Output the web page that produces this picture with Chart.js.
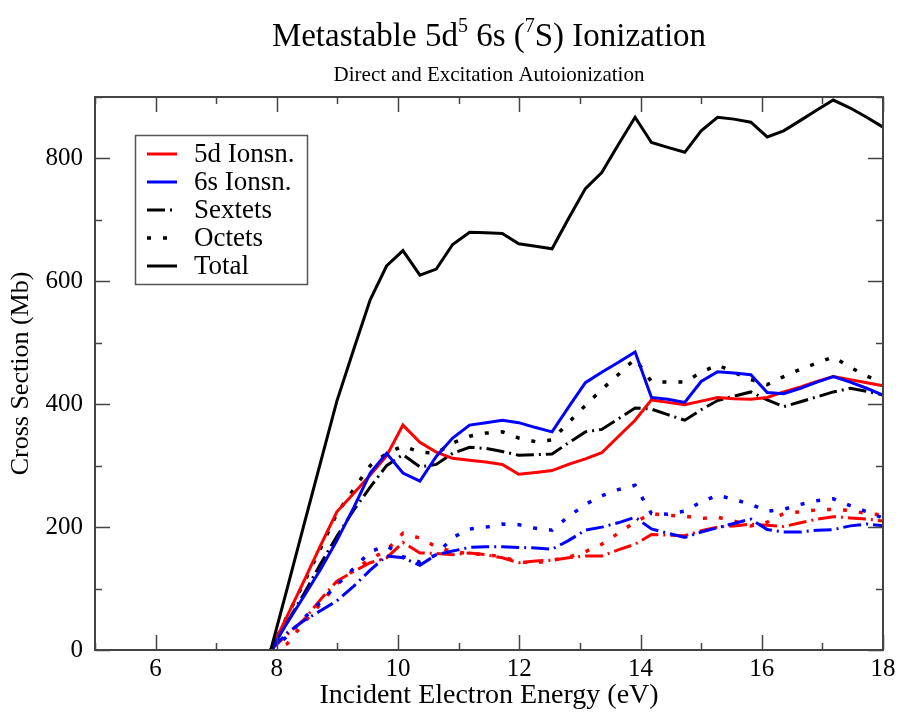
<!DOCTYPE html>
<html>
<head>
<meta charset="utf-8">
<title>Metastable 5d5 6s (7S) Ionization</title>
<script src="https://cdn.jsdelivr.net/npm/chart.js"></script>
<style>
  html, body { margin: 0; padding: 0; background: #fff; }
</style>
</head>
<body>
<canvas id="chart" width="903" height="716"></canvas>
<script>
// incident energies (eV)
const energy = [7.90, 8.17, 8.45, 8.72, 8.99, 9.27, 9.54, 9.81, 10.08, 10.36,
  10.63, 10.90, 11.18, 11.45, 11.72, 11.99, 12.27, 12.54, 12.81, 13.09,
  13.36, 13.63, 13.91, 14.18, 14.45, 14.73, 15.00, 15.27, 15.54, 15.82,
  16.09, 16.36, 16.64, 16.91, 17.18, 17.46, 17.73, 18.00];

// cross sections (Mb)
const total = [0, 100, 205, 305, 405, 490, 570, 625, 650, 610, 620, 660, 680, 679, 678, 661, 657, 653, 702, 751,
  777, 822, 867, 826, 818, 810, 845, 867, 864, 859, 835, 845, 862, 879, 895, 882, 867, 851];
const ion5d = [0, 55, 113, 170, 225, 255, 285, 316, 366, 338, 322, 312, 309, 306, 302, 286, 289, 292, 302, 311,
  321, 347, 374, 407, 403, 399, 405, 411, 409, 408, 411, 420, 428, 437, 445, 440, 435, 430];
const ion6s = [0, 44, 88, 131, 178, 232, 288, 320, 288, 275, 315, 345, 366, 370, 374, 370, 362, 355, 395, 435,
  452, 468, 485, 411, 408, 403, 437, 453, 451, 448, 419, 417, 426, 436, 445, 436, 426, 415];
const sextets = [0, 45, 92, 140, 185, 228, 265, 300, 318, 298, 302, 320, 330, 328, 323, 317, 318, 319, 337, 355,
  359, 376, 394, 392, 383, 374, 391, 406, 413, 420, 407, 396, 404, 412, 420, 426, 421, 415];
const octets = [0, 55, 110, 165, 222, 262, 300, 320, 332, 322, 320, 337, 348, 353, 355, 345, 339, 342, 370, 398,
  424, 448, 474, 437, 436, 436, 452, 464, 452, 440, 432, 445, 457, 467, 477, 460, 446, 435];
const sext5d = [0, 25, 50, 82, 112, 128, 142, 150, 175, 158, 157, 155, 158, 155, 150, 142, 145, 146, 150, 153,
  153, 163, 172, 188, 187, 186, 194, 200, 202, 205, 203, 201, 207, 213, 217, 215, 213, 210];
const oct5d = [0, 10, 45, 75, 108, 130, 148, 162, 190, 182, 168, 160, 157, 155, 152, 143, 142, 146, 151, 160,
  172, 190, 208, 222, 219, 218, 214, 216, 210, 202, 208, 222, 225, 228, 229, 227, 222, 220];
const sext6s = [0, 28, 48, 64, 80, 104, 130, 153, 150, 138, 155, 161, 167, 168, 168, 167, 166, 164, 178, 195,
  200, 207, 216, 197, 190, 183, 192, 199, 206, 213, 196, 192, 192, 195, 196, 202, 205, 202];
const oct6s = [0, 22, 52, 78, 106, 133, 160, 170, 152, 143, 155, 183, 197, 200, 205, 204, 198, 195, 217, 237,
  251, 261, 268, 222, 221, 226, 241, 252, 245, 237, 226, 229, 237, 243, 246, 235, 225, 215];

const legendLabels = ['5d Ionsn.', '6s Ionsn.', 'Sextets', 'Octets', 'Total'];

const SERIF = "'Liberation Serif', 'Times New Roman', serif";
const DASH_SEXT = [18, 5, 2, 5];
const DASH_OCT = [4, 12];

function series(label, values, color, dash, width) {
  return {
    label,
    data: energy.map((e, i) => ({ x: e, y: values[i] })),
    borderColor: color,
    borderWidth: width || 3,
    borderDash: dash || [],
    pointRadius: 0,
    tension: 0,
    fill: false
  };
}

// titel med upphöjda tecken
const supTitle = {
  id: 'supTitle',
  afterDraw(chart) {
    const ctx = chart.ctx, a = chart.chartArea;
    const cx = (a.left + a.right) / 2;
    const parts = [['Metastable 5d', 0], ['5', 1], [' 6s (', 0], ['7', 1], ['S) Ionization', 0]];
    const big = '33px ' + SERIF, small = '20px ' + SERIF;
    ctx.save();
    ctx.fillStyle = '#000';
    ctx.textBaseline = 'alphabetic';
    let w = 0;
    parts.forEach(p => { ctx.font = p[1] ? small : big; w += ctx.measureText(p[0]).width; });
    let x = cx - w / 2;
    parts.forEach(p => {
      ctx.font = p[1] ? small : big;
      ctx.fillText(p[0], x, p[1] ? 32 : 46);
      x += ctx.measureText(p[0]).width;
    });
    ctx.font = '21px ' + SERIF;
    ctx.textAlign = 'center';
    ctx.fillText('Direct and Excitation Autoionization', cx, 81);
    ctx.restore();
  }
};

// ram och inåtriktade ticks på alla fyra sidor
const frameTicks = {
  id: 'frameTicks',
  afterDatasetsDraw(chart) {
    const { ctx, chartArea: a, scales: { x, y } } = chart;
    ctx.save();
    ctx.strokeStyle = '#444';
    ctx.lineWidth = 1.5;
    ctx.beginPath();
    x.ticks.forEach(t => {
      const px = Math.round(x.getPixelForValue(t.value)) + 0.5;
      const len = t.label !== '' ? 15 : 7;
      ctx.moveTo(px, a.bottom); ctx.lineTo(px, a.bottom - len);
      ctx.moveTo(px, a.top); ctx.lineTo(px, a.top + len);
    });
    y.ticks.forEach(t => {
      const py = Math.round(y.getPixelForValue(t.value)) + 0.5;
      const len = t.label !== '' ? 15 : 7;
      ctx.moveTo(a.left, py); ctx.lineTo(a.left + len, py);
      ctx.moveTo(a.right, py); ctx.lineTo(a.right - len, py);
    });
    ctx.stroke();
    ctx.lineWidth = 2;
    ctx.strokeRect(a.left, a.top, a.right - a.left, a.bottom - a.top);
    ctx.restore();
  }
};

// legend i rutan uppe till vänster
const boxLegend = {
  id: 'boxLegend',
  afterDatasetsDraw(chart) {
    const ctx = chart.ctx;
    const box = { x: 135.5, y: 135.5, w: 172, h: 149 };
    ctx.save();
    ctx.fillStyle = '#fff';
    ctx.fillRect(box.x, box.y, box.w, box.h);
    ctx.strokeStyle = '#555';
    ctx.lineWidth = 1.5;
    ctx.strokeRect(box.x, box.y, box.w, box.h);
    ctx.font = '27px ' + SERIF;
    ctx.textBaseline = 'middle';
    legendLabels.forEach((lbl, i) => {
      const ds = chart.data.datasets.find(d => d.label === lbl);
      const yy = 154 + i * 28;
      ctx.strokeStyle = ds.borderColor;
      ctx.lineWidth = ds.borderWidth;
      ctx.setLineDash(ds.borderDash);
      ctx.beginPath();
      ctx.moveTo(147, yy); ctx.lineTo(177, yy);
      ctx.stroke();
      ctx.setLineDash([]);
      ctx.fillStyle = '#000';
      ctx.fillText(lbl, 194, yy + 1);
    });
    ctx.restore();
  }
};

new Chart(document.getElementById('chart'), {
  type: 'line',
  data: {
    datasets: [
      series('Total', total, '#000'),
      series('6s Ionsn.', ion6s, '#0000ff'),
      series('5d Ionsn.', ion5d, '#ff0000'),
      series('Sextets', sextets, '#000', DASH_SEXT),
      series('Octets', octets, '#000', DASH_OCT, 3.5),
      series('6s Sextets', sext6s, '#0000ff', DASH_SEXT),
      series('6s Octets', oct6s, '#0000ff', DASH_OCT, 3.5),
      series('5d Sextets', sext5d, '#ff0000', DASH_SEXT),
      series('5d Octets', oct5d, '#ff0000', DASH_OCT, 3.5)
    ]
  },
  options: {
    responsive: false,
    animation: false,
    devicePixelRatio: 1,
    layout: { padding: { top: 97, right: 20, left: 0, bottom: 0 } },
    plugins: {
      legend: { display: false },
      tooltip: { enabled: false }
    },
    scales: {
      x: {
        type: 'linear',
        min: 5,
        max: 18,
        afterFit: s => { s.height = 66; },
        grid: { display: false, drawTicks: false },
        border: { display: false },
        ticks: {
          stepSize: 1,
          padding: 4,
          color: '#000',
          font: { family: SERIF, size: 25 },
          callback: v => (v % 2 === 0 ? v : '')
        },
        title: {
          display: true,
          text: 'Incident Electron Energy (eV)',
          color: '#000',
          font: { family: SERIF, size: 28 },
          padding: { top: 0, bottom: 4 }
        }
      },
      y: {
        min: 0,
        max: 900,
        afterFit: s => { s.width = 95; },
        grid: { display: false, drawTicks: false },
        border: { display: false },
        ticks: {
          stepSize: 100,
          padding: 12,
          color: '#000',
          font: { family: SERIF, size: 25 },
          callback: v => (v % 200 === 0 ? v : '')
        },
        title: {
          display: true,
          text: 'Cross Section (Mb)',
          color: '#000',
          font: { family: SERIF, size: 26 },
          padding: { top: 6, bottom: 0 }
        }
      }
    }
  },
  plugins: [supTitle, frameTicks, boxLegend]
});
</script>
</body>
</html>
